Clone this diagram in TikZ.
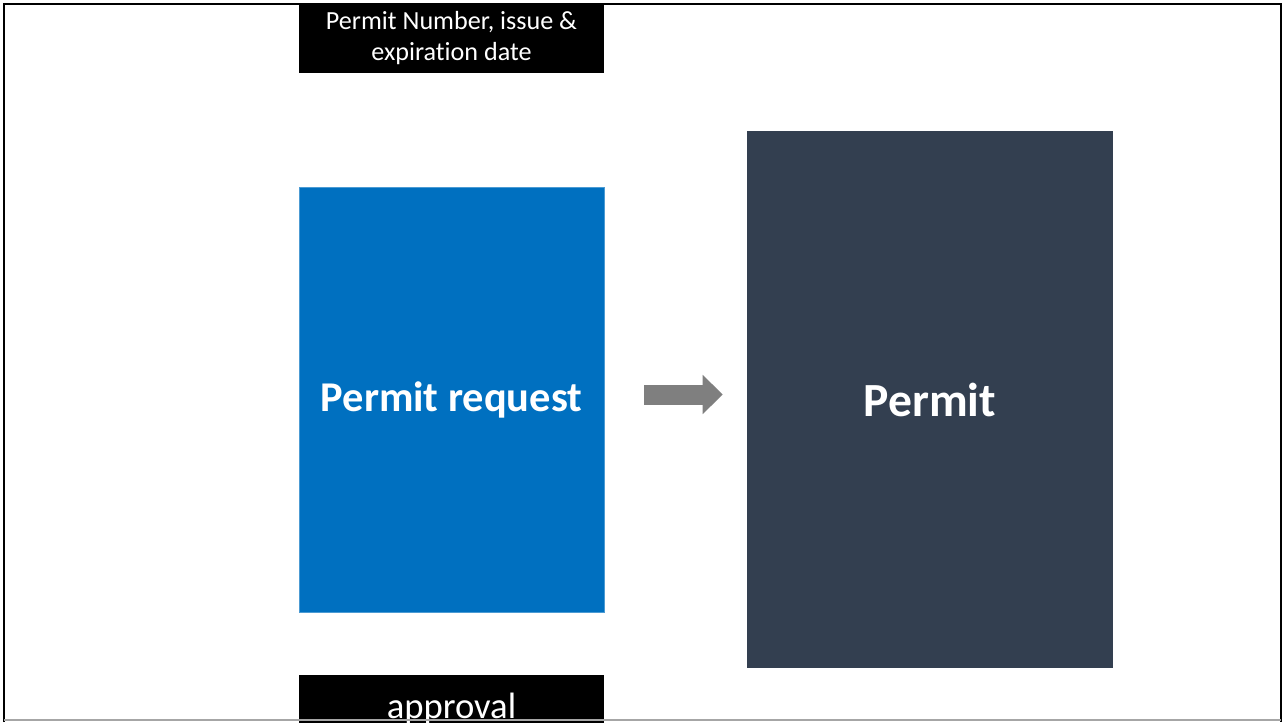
\documentclass[tikz,border=0pt]{standalone}
\usepackage{fontspec}
\setmainfont{Carlito}[Ligatures=NoCommon]
\usetikzlibrary{arrows.meta}
\definecolor{reqblue}{HTML}{0070C0}
\definecolor{permitdark}{HTML}{333F50}
\definecolor{arrowgray}{HTML}{7F7F7F}
\tikzset{
  labelbox/.style={fill=black, text=white, inner sep=0pt, align=center,
    minimum width=228.75pt},
  bigbox/.style={inner sep=0pt, text=white, font=\bfseries},
}
\begin{document}
\begin{tikzpicture}[x=0.75pt,y=-0.75pt]
\useasboundingbox (0,0) rectangle (1284,722);
\fill[white] (0,0) rectangle (1284,722);
\begin{scope}
\clip (0,0) rectangle (1284,722);
\node[labelbox, minimum height=52.5pt, font=\fontsize{19.6}{23.2}\selectfont] (top) at (451.5,38) {Permit Number, issue \&\\expiration date};
\node[labelbox, minimum height=51pt, font=\fontsize{27.5}{33}\selectfont] (bottom) at (451.5,709) {approval};
\end{scope}
\node[bigbox, fill=reqblue, draw=reqblue!70!white, line width=0.6pt, minimum width=228.75pt, minimum height=318.75pt, font=\fontsize{31.8}{38}\selectfont\bfseries] (req) at (451.5,399.5) {Permit request};
\node[bigbox, fill=permitdark, minimum width=274.5pt, minimum height=402.75pt, font=\fontsize{35.7}{42}\selectfont\bfseries] (permit) at (930,399.5) {Permit};
\path (req.east) ++(40,-5) coordinate (as);
\path (permit.west) ++(-24,-5) coordinate (ae);
\draw[arrowgray, line width=15pt, -{Triangle[length=15pt, width=28.5pt]}] (as) -- (ae);
\draw[black, line width=2.2pt] (4,722) -- (4,4) -- (1281,4) -- (1281,722);
\draw[gray!70, line width=1.5pt] (4,720) -- (1281,720);
\end{tikzpicture}
\end{document}
